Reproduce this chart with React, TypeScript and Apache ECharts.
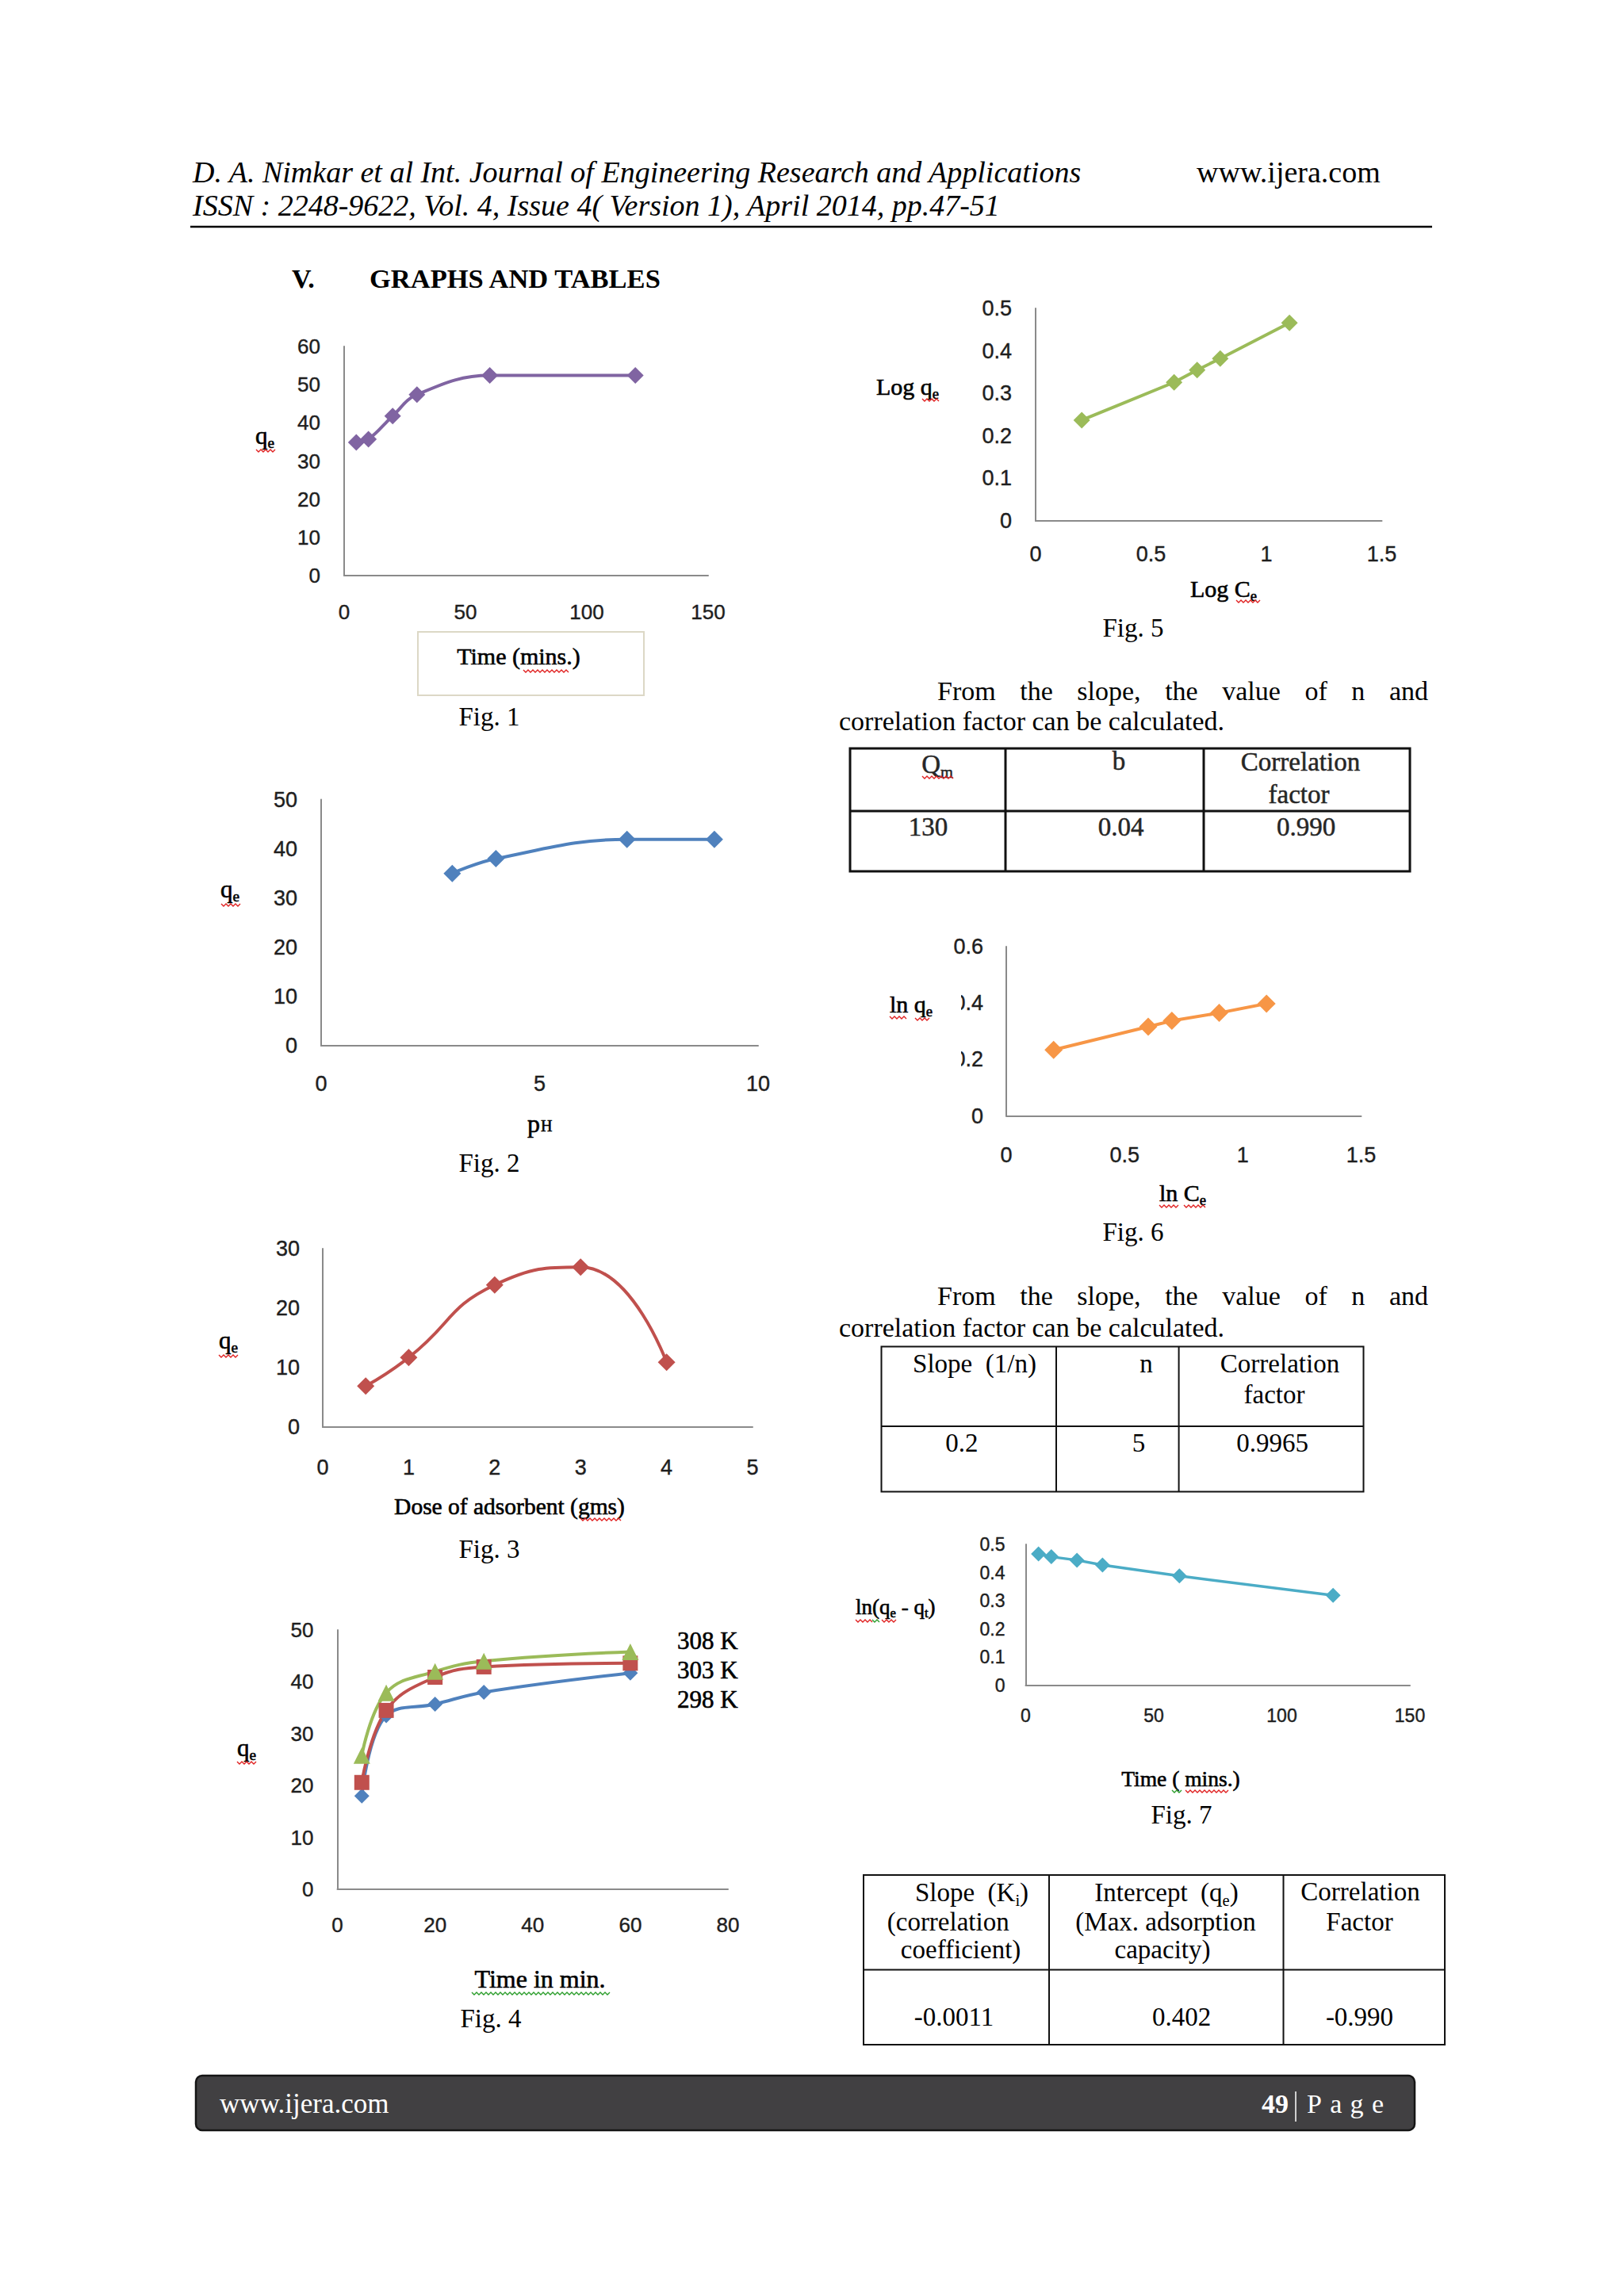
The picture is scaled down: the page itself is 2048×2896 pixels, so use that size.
import React, { useEffect, useRef } from 'react';
import * as echarts from 'echarts';

const SERIF = '"Liberation Serif", "Times New Roman", Times, serif';
const SANS = '"Liberation Sans", Arial, Helvetica, sans-serif';
const AXIS = '#8a8a8a';
const RED = '#e02020';
const GREEN = '#2a9d2a';

// ---------------- Data ----------------
const fig1XTicks = [0, 50, 100, 150];
const fig1YTicks = [0, 10, 20, 30, 40, 50, 60];
const fig1Time = [5, 10, 20, 30, 60, 120];
const fig1Qe = [34.9, 35.7, 41.8, 47.4, 52.4, 52.4];

const fig2XTicks = [0, 5, 10];
const fig2YTicks = [0, 10, 20, 30, 40, 50];
const fig2PH = [3, 4, 7, 9];
const fig2Qe = [35, 38, 41.9, 41.9];

const fig3XTicks = [0, 1, 2, 3, 4, 5];
const fig3YTicks = [0, 10, 20, 30];
const fig3Dose = [0.5, 1, 2, 3, 4];
const fig3Qe = [6.9, 11.7, 23.9, 26.9, 10.9];

const fig4XTicks = [0, 20, 40, 60, 80];
const fig4YTicks = [0, 10, 20, 30, 40, 50];
const fig4Time = [5, 10, 20, 30, 60];
const fig4Q298 = [18, 33.5, 35.7, 38, 41.7];
const fig4Q303 = [20.6, 34.5, 40.9, 42.9, 43.6];
const fig4Q308 = [25.8, 37.9, 42, 44, 45.8];
const fig4Legend = ['308 K', '303 K', '298 K'];

const fig5XTicks = [0, 0.5, 1, 1.5];
const fig5YTicks = [0, 0.1, 0.2, 0.3, 0.4, 0.5];
const fig5LogCe = [0.2, 0.6, 0.7, 0.8, 1.1];
const fig5LogQe = [0.237, 0.326, 0.355, 0.382, 0.466];

const fig6XTicks = [0, 0.5, 1, 1.5];
const fig6YTicks = [0, 0.2, 0.4, 0.6];
const fig6LnCe = [0.2, 0.6, 0.7, 0.9, 1.1];
const fig6LnQe = [0.234, 0.316, 0.337, 0.365, 0.398];

const fig7XTicks = [0, 50, 100, 150];
const fig7YTicks = [0, 0.1, 0.2, 0.3, 0.4, 0.5];
const fig7Time = [5, 10, 20, 30, 60, 120];
const fig7LnQ = [0.466, 0.456, 0.444, 0.427, 0.388, 0.319];

const table1Values = ['130', '0.04', '0.990'];
const table2Header = ['Slope  (1/n)', 'n'];
const table2Values = ['0.2', '5', '0.9965'];
const table3Values = ['-0.0011', '0.402', '-0.990'];

const paraWords = ['From', 'the', 'slope,', 'the', 'value', 'of', 'n', 'and'];
const paraLine2 = 'correlation factor can be calculated.';
const pageLetters = ['P', 'a', 'g', 'e'];

// ---------------- helpers ----------------
let mctx: CanvasRenderingContext2D | null = null;
function tw(t: string, size: number, family: string, weight: string, fstyle = 'normal') {
  if (!mctx) mctx = document.createElement('canvas').getContext('2d');
  mctx!.font = `${fstyle} ${weight} ${size}px ${family}`;
  return mctx!.measureText(t).width;
}

type TO = { align?: string; family?: string; weight?: string; color?: string; z?: number; fstyle?: string; heavy?: number };

// text placed by baseline
function txt(text: string, x: number, baseline: number, size: number, o: TO = {}) {
  const color = o.color ?? '#000';
  const style: any = {
    text,
    fontSize: size,
    fontFamily: o.family ?? SERIF,
    fontWeight: o.weight ?? 'normal',
    fontStyle: o.fstyle ?? 'normal',
    fill: color,
    textAlign: o.align ?? 'center',
    textVerticalAlign: 'middle',
  };
  if (o.heavy) {
    style.stroke = color;
    style.lineWidth = o.heavy;
  }
  return { type: 'text', x, y: baseline - 0.34 * size, z: o.z ?? 10, style };
}

type Seg = { t: string; sub?: boolean };
function segs(list: Seg[], x: number, baseline: number, size: number, o: TO = {}) {
  const family = o.family ?? SERIF;
  const weight = o.weight ?? 'normal';
  const items = list.map((s) => {
    const fs = s.sub ? size * 0.62 : size;
    return { s, fs, w: tw(s.t, fs, family, weight) };
  });
  const total = items.reduce((a, b) => a + b.w, 0);
  let cx = o.align === 'center' ? x - total / 2 : o.align === 'right' ? x - total : x;
  const out: any[] = [];
  for (const it of items) {
    const bl = it.s.sub ? baseline + size * 0.17 : baseline;
    out.push(txt(it.s.t, cx, bl, it.fs, { ...o, align: 'left', family, weight }));
    cx += it.w;
  }
  return out;
}

function justified(words: string[], x0: number, x1: number, baseline: number, size: number, o: TO = {}) {
  const ws = words.map((w) => tw(w, size, SERIF, 'normal'));
  const gap = (x1 - x0 - ws.reduce((a, b) => a + b, 0)) / (words.length - 1);
  let x = x0;
  return words.map((w, i) => {
    const el = txt(w, x, baseline, size, { align: 'left', ...o });
    x += ws[i] + gap;
    return el;
  });
}

function squiggle(x0: number, x1: number, y: number, color = RED) {
  const pts: number[][] = [];
  let up = true;
  for (let x = x0; x <= x1; x += 3) {
    pts.push([x, up ? y : y + 3]);
    up = !up;
  }
  return { type: 'polyline', z: 12, shape: { points: pts }, style: { stroke: color, lineWidth: 1.4, fill: 'none' } };
}

function hline(x1: number, x2: number, y: number, w: number, c = '#111') {
  return { type: 'line', z: 5, shape: { x1, y1: y, x2, y2: y }, style: { stroke: c, lineWidth: w } };
}
function vline(x: number, y1: number, y2: number, w: number, c = '#111') {
  return { type: 'line', z: 5, shape: { x1: x, y1, x2: x, y2 }, style: { stroke: c, lineWidth: w } };
}
function box(x: number, y: number, w: number, h: number, lw: number, stroke = '#111', fill = 'none', r = 0) {
  return { type: 'rect', z: 5, shape: { x, y, width: w, height: h, r }, style: { stroke, fill, lineWidth: lw } };
}

// ---------------- layout ----------------
const grids = [
  { left: 434, top: 437, width: 459, height: 289 }, // fig 1
  { left: 405, top: 1008.5, width: 551, height: 310.5 }, // fig 2
  { left: 407, top: 1575, width: 542, height: 225 }, // fig 3
  { left: 425.5, top: 2056, width: 492.5, height: 327 }, // fig 4
  { left: 1306, top: 389, width: 436.5, height: 268 }, // fig 5
  { left: 1269, top: 1194, width: 447.5, height: 213.5 }, // fig 6
  { left: 1293.5, top: 1948, width: 484.5, height: 177.5 }, // fig 7
];
const tickFont = [26, 27, 27, 26, 27, 27, 23];
const xMargin = [33, 34, 37, 32, 28, 36, 27];
const yMargin = [30, 30, 29, 30, 30, 29, 26];
const TITLE = { heavy: 0.6 };

function axisPair(i: number, xt: number[], yt: number[]) {
  const common = (ticks: number[], margin: number) => ({
    type: 'value',
    gridIndex: i,
    min: ticks[0],
    max: ticks[ticks.length - 1],
    interval: ticks[1] - ticks[0],
    axisLine: { show: true, onZero: false, lineStyle: { color: AXIS, width: 2 } },
    axisTick: { show: false },
    splitLine: { show: false },
    axisLabel: {
      margin,
      fontSize: tickFont[i],
      fontFamily: SANS,
      color: '#1e1e1e',
      textBorderColor: '#1e1e1e',
      textBorderWidth: 0.4,
    },
  });
  return { x: common(xt, xMargin[i]), y: common(yt, yMargin[i]) };
}

function lineSeries(i: number, xs: number[], ys: number[], color: string, symbol: string, size: number, smooth: number | boolean, width = 4, name?: string) {
  return {
    type: 'line',
    name,
    xAxisIndex: i,
    yAxisIndex: i,
    data: xs.map((x, k) => [x, ys[k]]),
    smooth,
    symbol,
    symbolSize: size,
    showSymbol: true,
    clip: false,
    lineStyle: { color, width },
    itemStyle: { color },
    silent: true,
  };
}

function buildOption() {
  const axes = [
    axisPair(0, fig1XTicks, fig1YTicks),
    axisPair(1, fig2XTicks, fig2YTicks),
    axisPair(2, fig3XTicks, fig3YTicks),
    axisPair(3, fig4XTicks, fig4YTicks),
    axisPair(4, fig5XTicks, fig5YTicks),
    axisPair(5, fig6XTicks, fig6YTicks),
    axisPair(6, fig7XTicks, fig7YTicks),
  ];

  const series = [
    lineSeries(0, fig1Time, fig1Qe, '#8064A2', 'diamond', 21, 0.4),
    lineSeries(1, fig2PH, fig2Qe, '#4F81BD', 'diamond', 22, 0.4),
    lineSeries(2, fig3Dose, fig3Qe, '#C0504D', 'diamond', 22, 0.5),
    lineSeries(3, fig4Time, fig4Q298, '#4F81BD', 'diamond', 19, 0.4, 4, fig4Legend[2]),
    lineSeries(3, fig4Time, fig4Q303, '#C0504D', 'rect', 19, 0.4, 4, fig4Legend[1]),
    lineSeries(3, fig4Time, fig4Q308, '#9BBB59', 'triangle', 21, 0.4, 4, fig4Legend[0]),
    lineSeries(4, fig5LogCe, fig5LogQe, '#9BBB59', 'diamond', 21, false),
    lineSeries(5, fig6LnCe, fig6LnQe, '#F79646', 'diamond', 23, false),
    lineSeries(6, fig7Time, fig7LnQ, '#4BACC6', 'diamond', 19, false, 3.5),
  ];

  const g: any[] = [];
  // header
  g.push(txt('D. A. Nimkar et al Int. Journal of Engineering Research and Applications', 243, 230, 38, { align: 'left', fstyle: 'italic' }));
  g.push(txt('www.ijera.com', 1509, 230, 38, { align: 'left' }));
  g.push(txt('ISSN : 2248-9622, Vol. 4, Issue 4( Version 1), April 2014, pp.47-51', 243, 272, 38, { align: 'left', fstyle: 'italic' }));
  g.push(hline(240, 1806, 286, 2.5, '#000'));
  g.push(txt('V.', 368, 363, 34, { align: 'left', weight: 'bold' }));
  g.push(txt('GRAPHS AND TABLES', 466, 363, 34.5, { align: 'left', weight: 'bold' }));

  // Fig 1 labels
  g.push(...segs([{ t: 'q' }, { t: 'e', sub: true }], 334, 560, 31, { align: 'center', ...TITLE }));
  g.push(squiggle(323, 348, 567));
  g.push(box(527, 797, 285, 80, 2, '#dcd8c6', '#fff'));
  g.push(txt('Time (mins.)', 654, 838, 30, TITLE));
  g.push(squiggle(660, 719, 845));
  g.push(txt('Fig. 1', 617, 915, 33));

  // Fig 2
  g.push(...segs([{ t: 'q' }, { t: 'e', sub: true }], 290, 1132, 31, { align: 'center', ...TITLE }));
  g.push(squiggle(279, 304, 1140));
  g.push(txt('p', 665, 1428, 32, { align: 'left', ...TITLE }));
  g.push(txt('H', 682, 1427, 20, { align: 'left', ...TITLE }));
  g.push(txt('Fig. 2', 617, 1478, 33));

  // Fig 3
  g.push(...segs([{ t: 'q' }, { t: 'e', sub: true }], 288, 1701, 31, { align: 'center', ...TITLE }));
  g.push(squiggle(276, 302, 1709));
  g.push(txt('Dose of adsorbent (gms)', 642.5, 1910, 29.5, TITLE));
  g.push(squiggle(732, 783, 1915));
  g.push(txt('Fig. 3', 617, 1965, 33));

  // Fig 4
  g.push(...segs([{ t: 'q' }, { t: 'e', sub: true }], 311, 2215, 31, { align: 'center', ...TITLE }));
  g.push(squiggle(299, 325, 2222));
  g.push(txt('Time in min.', 681, 2507, 32, TITLE));
  g.push(squiggle(595, 769, 2513, GREEN));
  g.push(txt('Fig. 4', 619, 2557, 33));

  // Fig 5
  g.push(...segs([{ t: 'Log q' }, { t: 'e', sub: true }], 1105, 498, 30, { align: 'left', ...TITLE }));
  g.push(squiggle(1163, 1186, 503));
  g.push(...segs([{ t: 'Log C' }, { t: 'e', sub: true }], 1501, 753, 30, { align: 'left', ...TITLE }));
  g.push(squiggle(1559, 1589, 757));
  g.push(txt('Fig. 5', 1429, 803, 33));

  // Fig 6 (title box masks part of tick labels)
  g.push({ type: 'rect', z: 100, shape: { x: 1095, y: 1248, width: 117, height: 104 }, style: { fill: '#fff' } });
  g.push(...segs([{ t: 'ln q' }, { t: 'e', sub: true }], 1122, 1277, 30, { align: 'left', z: 101, ...TITLE }));
  g.push({ ...squiggle(1122, 1145, 1282), z: 102 });
  g.push({ ...squiggle(1154, 1174, 1284), z: 102 });
  g.push(...segs([{ t: 'ln C' }, { t: 'e', sub: true }], 1462, 1515, 30, { align: 'left', ...TITLE }));
  g.push(squiggle(1462, 1487, 1520));
  g.push(squiggle(1493, 1522, 1520));
  g.push(txt('Fig. 6', 1429, 1565, 33));

  // Fig 7
  g.push(...segs([{ t: 'ln(q' }, { t: 'e', sub: true }, { t: ' - q' }, { t: 't', sub: true }, { t: ')' }], 1079, 2036, 27, { align: 'left', ...TITLE }));
  g.push(squiggle(1079, 1100, 2043));
  g.push(squiggle(1100, 1109, 2043, GREEN));
  g.push(squiggle(1112, 1131, 2043));
  g.push(txt('Time ( mins.)', 1489, 2253, 27.5, TITLE));
  g.push(squiggle(1478, 1492, 2258, GREEN));
  g.push(squiggle(1495, 1549, 2258));
  g.push(txt('Fig. 7', 1490, 2300, 33));

  // Paragraph + table 1
  g.push(...justified(paraWords, 1182, 1801, 883, 34));
  g.push(txt(paraLine2, 1058, 921, 34, { align: 'left' }));
  g.push(box(1072, 944, 706, 155, 3));
  g.push(vline(1268, 944, 1099, 3));
  g.push(vline(1518, 944, 1099, 3));
  g.push(hline(1072, 1778, 1023, 3));
  const T1: TO = { color: '#262626', heavy: 0.5 };
  g.push(...segs([{ t: 'Q' }, { t: 'm', sub: true }], 1182, 975, 33, { align: 'center', ...T1 }));
  g.push(squiggle(1163, 1204, 979));
  g.push(txt('b', 1411, 971, 33, T1));
  g.push(txt('Correlation', 1640, 972, 33, T1));
  g.push(txt('factor', 1638, 1013, 33, T1));
  g.push(txt(table1Values[0], 1170.6, 1054, 33, T1));
  g.push(txt(table1Values[1], 1413.6, 1054, 33, T1));
  g.push(txt(table1Values[2], 1647, 1054, 33, T1));

  // Paragraph + table 2
  g.push(...justified(paraWords, 1182, 1801, 1646, 34));
  g.push(txt(paraLine2, 1058, 1686, 34, { align: 'left' }));
  g.push(box(1111.5, 1698.5, 608, 183, 2));
  g.push(vline(1332, 1698.5, 1881.5, 2));
  g.push(vline(1486.6, 1698.5, 1881.5, 2));
  g.push(hline(1111.5, 1719.5, 1799, 2));
  g.push(txt(table2Header[0], 1229, 1731, 33));
  g.push(txt(table2Header[1], 1445.5, 1731, 33));
  g.push(txt('Correlation', 1614, 1731, 33));
  g.push(txt('factor', 1607, 1770, 33));
  g.push(txt(table2Values[0], 1212.8, 1831, 33));
  g.push(txt(table2Values[1], 1436, 1831, 33));
  g.push(txt(table2Values[2], 1604.6, 1831, 33));

  // table 3
  g.push(box(1089, 2365, 733, 214, 2));
  g.push(vline(1323, 2365, 2579, 2));
  g.push(vline(1618.5, 2365, 2579, 2));
  g.push(hline(1089, 1822, 2484.5, 2));
  g.push(...segs([{ t: 'Slope  (K' }, { t: 'i', sub: true }, { t: ')' }], 1225.5, 2398, 33, { align: 'center' }));
  g.push(txt('(correlation', 1195.7, 2435, 33));
  g.push(txt('coefficient)', 1211.6, 2470, 33));
  g.push(...segs([{ t: 'Intercept  (q' }, { t: 'e', sub: true }, { t: ')' }], 1471, 2398, 33, { align: 'center' }));
  g.push(txt('(Max. adsorption', 1470, 2435, 33));
  g.push(txt('capacity)', 1466, 2470, 33));
  g.push(txt('Correlation', 1715.5, 2397, 33));
  g.push(txt('Factor', 1714.5, 2435, 33));
  g.push(txt(table3Values[0], 1203, 2555, 33));
  g.push(txt(table3Values[1], 1490, 2555, 33));
  g.push(txt(table3Values[2], 1714.5, 2555, 33));

  // footer
  g.push(box(247, 2618, 1537, 69, 2.5, '#151515', '#414042', 8));
  g.push(txt('www.ijera.com', 277, 2665, 35, { align: 'left', color: '#fff' }));
  g.push(txt('49', 1591, 2665, 34, { align: 'left', color: '#fff', weight: 'bold' }));
  g.push({ ...vline(1634, 2638, 2676, 1.5, '#fff'), z: 12 });
  g.push(...justified(pageLetters, 1648, 1745, 2665, 34, { color: '#fff' }));

  return {
    animation: false,
    backgroundColor: '#ffffff',
    grid: grids.map((gr) => ({ ...gr, containLabel: false })),
    xAxis: axes.map((a) => a.x),
    yAxis: axes.map((a) => a.y),
    legend: {
      data: fig4Legend,
      orient: 'vertical',
      left: 843,
      top: 2049,
      itemWidth: 0,
      itemHeight: 0,
      itemGap: 5,
      selectedMode: false,
      textStyle: { fontFamily: SERIF, fontSize: 31, color: '#000', textBorderColor: '#000', textBorderWidth: 0.6 },
    },
    series,
    graphic: { elements: g },
  };
}

export default function App() {
  const ref = useRef<HTMLDivElement>(null);
  useEffect(() => {
    const chart = echarts.init(ref.current!, null, { renderer: 'svg' });
    chart.setOption(buildOption() as any);
    return () => chart.dispose();
  }, []);
  return (
    <div
      ref={ref}
      style={{ position: 'absolute', left: 0, top: 0, width: 2048, height: 2896, background: '#fff' }}
    />
  );
}
